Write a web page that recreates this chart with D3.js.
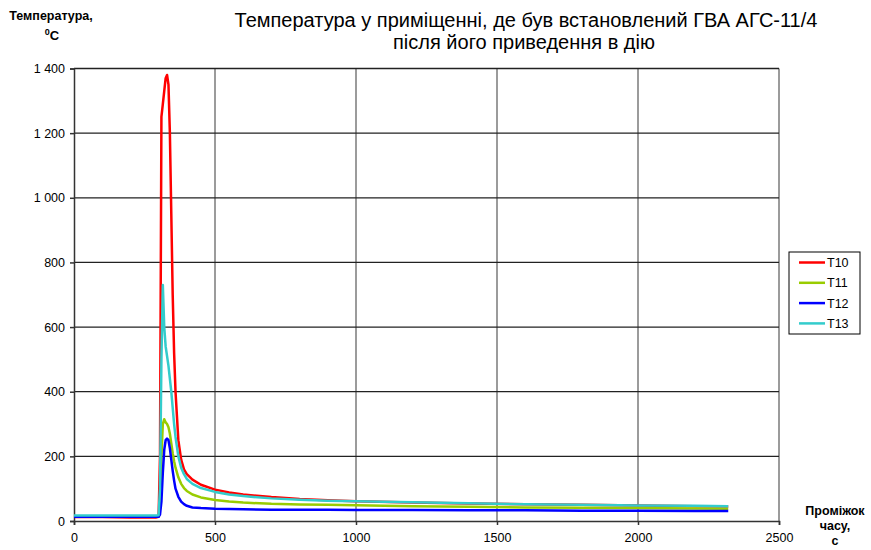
<!DOCTYPE html>
<html>
<head>
<meta charset="utf-8">
<script src="https://cdn.jsdelivr.net/npm/d3@7"></script>
<style>
  body { margin: 0; background: #fff; }
  svg text { font-family: "Liberation Sans", Arial, sans-serif; fill: #000; }
</style>
</head>
<body>
<div id="chart"></div>
<script>
// Час, с
const times = [0, 100, 200, 290, 300, 305, 310, 315, 320, 325, 330, 335, 340, 345, 350, 355, 360,
  370, 380, 390, 400, 420, 450, 500, 550, 600, 700, 800, 900, 1000, 1200, 1400, 1600, 1800, 2000, 2200, 2320];

const t10 = [12, 12, 11, 11, 13, 200, 1250, 1290, 1330, 1370, 1380, 1350, 1200, 950, 700, 520, 400,
  250, 190, 160, 145, 128, 112, 97, 88, 82, 74, 68, 64, 61, 57, 54, 52, 50, 48, 46, 45];
const t11 = [14, 14, 14, 14, 14, 40, 200, 300, 315, 305, 300, 290, 270, 240, 210, 185, 165,
  135, 115, 102, 93, 82, 73, 65, 60, 57, 53, 51, 50, 49, 46, 44, 42, 41, 40, 39, 38];
const t12 = [13, 13, 13, 13, 13, 20, 60, 150, 220, 250, 255, 250, 225, 190, 155, 125, 100,
  75, 60, 52, 47, 42, 40, 38, 37, 36, 35, 35, 35, 34, 34, 33, 33, 32, 32, 31, 31];
const t13 = [17, 17, 17, 17, 18, 100, 500, 730, 600, 540, 510, 480, 440, 400, 350, 300, 260,
  200, 165, 145, 130, 115, 102, 90, 82, 77, 70, 66, 63, 61, 58, 55, 52, 50, 48, 47, 46];

const seriesNames = ['T10', 'T11', 'T12', 'T13'];
const seriesValues = [t10, t11, t12, t13];
const seriesColors = ['#ff0000', '#99cc00', '#0000ff', '#33cccc'];

const xTicks = [0, 500, 1000, 1500, 2000, 2500];
const yTicks = [0, 200, 400, 600, 800, 1000, 1200, 1400];

const width = 871, height = 550;
const plotL = 74, plotR = 779, plotT = 68.5, plotB = 521;

const svg = d3.select('#chart').append('svg')
  .attr('width', width)
  .attr('height', height);

const x = d3.scaleLinear().domain([0, 2500]).range([plotL, plotR]);
const y = d3.scaleLinear().domain([0, 1400]).range([plotB, plotT]);

// Сітка
svg.append('g').selectAll('line')
  .data(xTicks.slice(1))
  .enter().append('line')
  .attr('x1', d => x(d)).attr('x2', d => x(d))
  .attr('y1', plotT).attr('y2', plotB)
  .attr('stroke', '#7a7a7a').attr('stroke-width', 1.5);

svg.append('g').selectAll('line')
  .data(yTicks.slice(1))
  .enter().append('line')
  .attr('x1', plotL).attr('x2', plotR)
  .attr('y1', d => y(d)).attr('y2', d => y(d))
  .attr('stroke', '#222').attr('stroke-width', 1.3);

// Осі
const fmt = d => d3.format(',')(d).replace(/,/g, ' ');

const yAxis = svg.append('g')
  .attr('transform', `translate(${plotL},0)`)
  .call(d3.axisLeft(y).tickValues(yTicks).tickFormat(fmt).tickSize(4).tickPadding(5));
const xAxis = svg.append('g')
  .attr('transform', `translate(0,${plotB})`)
  .call(d3.axisBottom(x).tickValues(xTicks).tickFormat(d3.format('d')).tickSize(4).tickPadding(8));

[yAxis, xAxis].forEach(a => {
  a.select('.domain').attr('stroke', '#333').attr('stroke-width', 1.5);
  a.selectAll('.tick line').attr('stroke', '#333').attr('stroke-width', 1.5);
  a.selectAll('.tick text').style('font-size', '12.5px')
    .style('font-family', '"Liberation Sans", Arial, sans-serif').attr('fill', '#000');
});

// Лінії
const line = d3.line()
  .x((d, i) => x(times[i]))
  .y(d => y(d));

svg.append('g').selectAll('path')
  .data(seriesValues)
  .enter().append('path')
  .attr('d', d => line(d))
  .attr('fill', 'none')
  .attr('stroke', (d, i) => seriesColors[i])
  .attr('stroke-width', 2.5)
  .attr('stroke-linejoin', 'round');

// Заголовок
const title = svg.append('text')
  .attr('text-anchor', 'middle')
  .style('font-size', '20px');
title.append('tspan').attr('x', 526).attr('y', 27)
  .text('Температура у приміщенні, де був встановлений ГВА АГС-11/4');
title.append('tspan').attr('x', 524).attr('y', 49)
  .text('після його приведення в дію');

// Підпис осі Y
svg.append('text')
  .attr('x', 51).attr('y', 20)
  .attr('text-anchor', 'middle')
  .style('font-size', '12.5px')
  .style('font-weight', 'bold')
  .text('Температура,');
const yUnit = svg.append('text')
  .attr('x', 52).attr('y', 40)
  .attr('text-anchor', 'middle')
  .style('font-size', '13px')
  .style('font-weight', 'bold');
yUnit.append('tspan').attr('dy', -5).style('font-size', '9px').text('0');
yUnit.append('tspan').attr('dy', 5).text('C');

// Підпис осі X
const xTitle = svg.append('text')
  .attr('text-anchor', 'middle')
  .style('font-size', '12.5px')
  .style('font-weight', 'bold');
['Проміжок', 'часу,', 'с'].forEach((s, i) => {
  xTitle.append('tspan').attr('x', 835).attr('y', 515 + i * 15).text(s);
});

// Легенда
const legend = svg.append('g').attr('transform', 'translate(789,252)');
legend.append('rect')
  .attr('width', 71).attr('height', 82)
  .attr('fill', '#fff').attr('stroke', '#000').attr('stroke-width', 1);
const item = legend.selectAll('.item')
  .data(seriesNames)
  .enter().append('g')
  .attr('class', 'item')
  .attr('transform', (d, i) => `translate(0,${10.5 + i * 20.3})`);
item.append('line')
  .attr('x1', 10).attr('x2', 36)
  .attr('stroke', (d, i) => seriesColors[i])
  .attr('stroke-width', 2.5);
item.append('text')
  .attr('x', 38).attr('dy', '0.36em')
  .style('font-size', '12.5px')
  .text(d => d);
</script>
</body>
</html>
